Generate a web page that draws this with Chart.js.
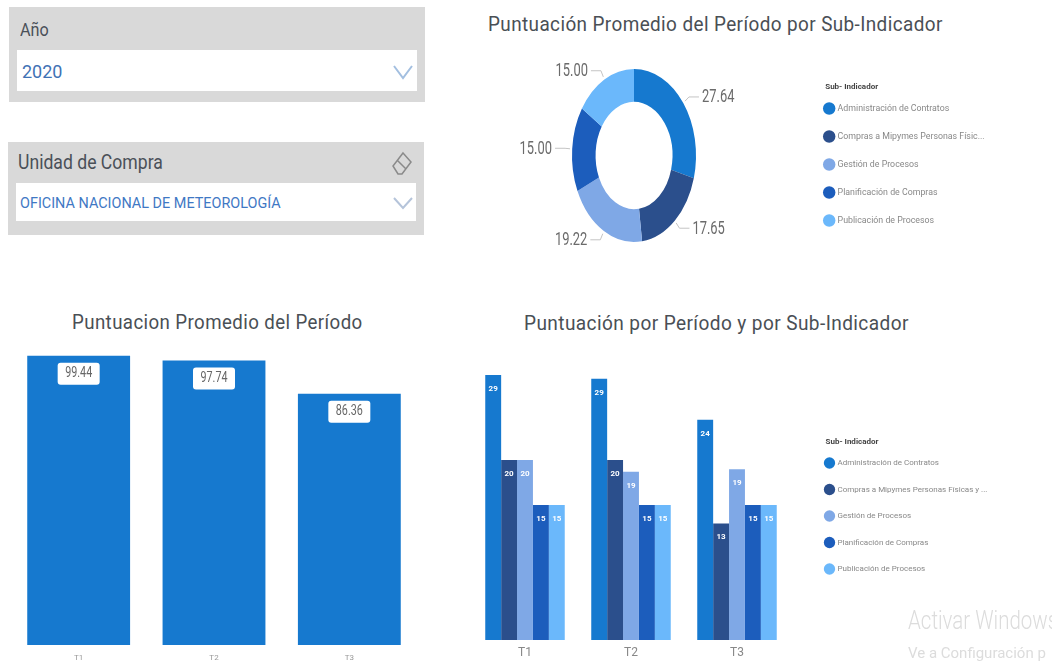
<!DOCTYPE html>
<html lang="es">
<head>
<meta charset="utf-8">
<script src="https://cdn.jsdelivr.net/npm/chart.js@4"></script>
<style>
  html, body { margin: 0; padding: 0; background: #fff; overflow: hidden; }
  body { width: 1052px; height: 668px; position: relative; font-family: Roboto, sans-serif; }
  .abs { position: absolute; white-space: nowrap; transform-origin: left center; }
  .slicer { background: #d9d9d9; }
  .field { background: #fff; }
  .title { color: #4a4f55; font-size: 21px; line-height: 26px; letter-spacing: .45px; transform: scaleX(.9); }
  canvas { position: absolute; }
  .watermark { color: #dcdcdc; }
</style>
</head>
<body>
  <div class="abs slicer" style="left:9px;top:7px;width:416px;height:95px"></div>
  <div class="abs field" style="left:17px;top:50px;width:400px;height:41px"></div>
  <div class="abs" style="left:20px;top:19px;font-size:18px;color:#4a5058;transform:scaleX(.9)">Año</div>
  <div class="abs" style="left:22px;top:61px;font-size:18px;color:#3f72b5">2020</div>
  <svg class="abs" style="left:392px;top:64px" width="22" height="16"><path d="M2 2 L11 14 L20 2" fill="none" stroke="#a3bfe0" stroke-width="2"/></svg>

  <div class="abs slicer" style="left:8px;top:142px;width:416px;height:93px"></div>
  <div class="abs field" style="left:16px;top:183px;width:400px;height:38px"></div>
  <div class="abs" style="left:18px;top:150px;font-size:20px;color:#4a5058;transform:scaleX(.88)">Unidad de Compra</div>
  <div class="abs" style="left:20px;top:194px;font-size:15.5px;color:#3f78c4;transform:scaleX(.93)">OFICINA NACIONAL DE METEOROLOGÍA</div>
  <svg class="abs" style="left:392px;top:196px" width="22" height="14"><path d="M2 2 L11 12 L20 2" fill="none" stroke="#b5c4da" stroke-width="2"/></svg>
  <svg class="abs" style="left:391px;top:151px" width="22" height="26"><path d="M12 2 L20 11 L11 23 L7 23 L2 15 Z M6 9 L15 18" fill="none" stroke="#8a8a8a" stroke-width="1.5"/></svg>

  <div class="abs title" style="left:488px;top:11px">Puntuación Promedio del Período por Sub-Indicador</div>
  <div class="abs title" style="left:72px;top:309px;transform:scaleX(.89)">Puntuacion Promedio del Período</div>
  <div class="abs title" style="left:524px;top:310px;transform:scaleX(.907)">Puntuación por Período y por Sub-Indicador</div>

  <canvas id="donut" style="left:463px;top:0" width="557" height="311"></canvas>
  <canvas id="periodBars" style="left:11px;top:350px" width="406" height="318"></canvas>
  <canvas id="groupBars" style="left:472px;top:365px" width="528" height="303"></canvas>

  <div class="abs watermark" style="left:908px;top:606px;font-size:25px;font-weight:300;transform:scaleX(.82)">Activar Windows</div>
  <div class="abs watermark" style="left:908px;top:644px;font-size:15px">Ve a Configuración p</div>

<script>
const periods = ['T1', 'T2', 'T3'];
const periodScores = [99.44, 97.74, 86.36];

const subIndicators = ['Administración de Contratos', 'Compras a Mipymes Personas Físicas y ...', 'Gestión de Procesos', 'Planificación de Compras', 'Publicación de Procesos'];
const donutLegendLabels = ['Administración de Contratos', 'Compras a Mipymes Personas Físic...', 'Gestión de Procesos', 'Planificación de Compras', 'Publicación de Procesos'];
const averageScores = [27.64, 17.65, 19.22, 15.00, 15.00];

const contratosScores = [29.44, 29.04, 24.46];
const mipymesScores = [20, 20, 12.95];
const gestionScores = [20, 18.7, 18.96];
const planificacionScores = [15, 15, 15];
const publicacionScores = [15, 15, 15];

const colors = ['#1679cf', '#2b4f8c', '#7fa8e6', '#1c5dbc', '#6bb8fb'];

const FONT = 'Roboto, sans-serif';
const GREY = '#6b6b6b';
const SQUEEZE = 124 / 173; // the whole picture is narrower than it is tall

Chart.defaults.animation = false;
Chart.defaults.responsive = false;
Chart.defaults.font.family = FONT;

// fixed legend box moved next to the plot, with its heading above the first row
function placedLegend(width, dx, dy) {
  return {
    id: 'placedLegend',
    beforeInit(chart) {
      const legend = chart.legend;
      const fit = legend.fit;
      const draw = legend.draw;
      legend.fit = function () {
        fit.call(this);
        this.width = width;
      };
      legend.draw = function () {
        const ctx = chart.ctx;
        const first = this.legendHitBoxes[0];
        ctx.save();
        ctx.translate(dx, dy);
        draw.call(this);
        ctx.font = 'bold 8px ' + FONT;
        ctx.fillStyle = '#444';
        ctx.textAlign = 'left';
        ctx.textBaseline = 'middle';
        ctx.fillText('Sub- Indicador', first.left, first.top - 17);
        ctx.restore();
      };
    },
  };
}

function legendOptions(size, padding) {
  return {
    position: 'right',
    align: 'center',
    labels: { usePointStyle: true, pointStyle: 'circle', boxWidth: 8, padding, color: '#888', font: { size } },
  };
}

const squeezeArcs = {
  id: 'squeezeArcs',
  beforeDatasetsDraw(chart) {
    const arc = chart.getDatasetMeta(0).data[0];
    chart.ctx.save();
    chart.ctx.translate(arc.x, 0);
    chart.ctx.scale(SQUEEZE, 1);
    chart.ctx.translate(-arc.x, 0);
  },
  afterDatasetsDraw(chart) {
    chart.ctx.restore();
    const ctx = chart.ctx;
    chart.getDatasetMeta(0).data.forEach((arc, i) => {
      const mid = (arc.startAngle + arc.endAngle) / 2;
      const dx = Math.cos(mid);
      const dy = Math.sin(mid);
      const side = dx >= 0 ? 1 : -1;
      const at = r => [arc.x + dx * (arc.outerRadius + r) * SQUEEZE, arc.y + dy * (arc.outerRadius + r)];
      const from = at(3);
      const elbow = at(10);
      ctx.strokeStyle = '#c4c4c4';
      ctx.lineWidth = 1;
      ctx.beginPath();
      ctx.moveTo(from[0], from[1]);
      ctx.lineTo(elbow[0], elbow[1]);
      ctx.lineTo(elbow[0] + side * 10, elbow[1]);
      ctx.stroke();

      ctx.save();
      ctx.translate(elbow[0] + side * 13, elbow[1]);
      ctx.scale(SQUEEZE, 1);
      ctx.font = '18px ' + FONT;
      ctx.fillStyle = GREY;
      ctx.textBaseline = 'middle';
      ctx.textAlign = side > 0 ? 'left' : 'right';
      ctx.fillText(averageScores[i].toFixed(2), 0, 1);
      ctx.restore();
    });
  },
};

const periodLabels = {
  id: 'periodLabels',
  afterDatasetsDraw(chart) {
    const ctx = chart.ctx;
    chart.getDatasetMeta(0).data.forEach((bar, i) => {
      ctx.fillStyle = '#fff';
      ctx.beginPath();
      ctx.roundRect(bar.x - 21, bar.y + 7, 42, 22, 3);
      ctx.fill();
      ctx.save();
      ctx.translate(bar.x, bar.y + 18);
      ctx.scale(SQUEEZE, 1);
      ctx.font = '15px ' + FONT;
      ctx.fillStyle = '#666';
      ctx.textAlign = 'center';
      ctx.textBaseline = 'middle';
      ctx.fillText(periodScores[i].toFixed(2), 0, 0);
      ctx.restore();
    });
  },
};

const groupLabels = {
  id: 'groupLabels',
  afterDatasetsDraw(chart) {
    const ctx = chart.ctx;
    chart.data.datasets.forEach((ds, d) => {
      chart.getDatasetMeta(d).data.forEach((bar, i) => {
        ctx.font = 'bold 8px ' + FONT;
        ctx.fillStyle = '#fff';
        ctx.textAlign = 'center';
        ctx.textBaseline = 'middle';
        ctx.fillText(Math.round(ds.data[i]), bar.x, bar.y + 14);
      });
    });
  },
};

new Chart(document.getElementById('donut'), {
  type: 'doughnut',
  data: {
    labels: donutLegendLabels,
    datasets: [{ data: averageScores, backgroundColor: colors, borderWidth: 0 }],
  },
  options: {
    cutout: '62%',
    layout: { padding: { top: 69, bottom: 69 } },
    plugins: { legend: legendOptions(8.8, 19.2), tooltip: { enabled: false } },
  },
  plugins: [placedLegend(215, 1, 9), squeezeArcs],
});

new Chart(document.getElementById('periodBars'), {
  type: 'bar',
  data: {
    labels: periods,
    datasets: [{ data: periodScores, backgroundColor: colors[0], barPercentage: 0.76, categoryPercentage: 1 }],
  },
  options: {
    layout: { padding: { top: 4 } },
    scales: {
      x: {
        afterFit(scale) { scale.height = 23; },
        grid: { display: false, drawTicks: false },
        border: { display: false },
        ticks: { color: '#999', font: { size: 8 }, padding: 8, maxRotation: 0 },
      },
      y: { display: false, min: 0, max: 100 },
    },
    plugins: { legend: { display: false }, tooltip: { enabled: false } },
  },
  plugins: [periodLabels],
});

new Chart(document.getElementById('groupBars'), {
  type: 'bar',
  data: {
    labels: periods,
    datasets: [contratosScores, mipymesScores, gestionScores, planificacionScores, publicacionScores].map((data, i) => ({
      label: subIndicators[i],
      data,
      backgroundColor: colors[i],
      barPercentage: 1,
      categoryPercentage: 0.75,
    })),
  },
  options: {
    layout: { padding: { top: 5 } },
    scales: {
      x: {
        afterFit(scale) { scale.height = 28; },
        grid: { display: false, drawTicks: false },
        border: { display: false },
        ticks: { color: '#888', font: { size: 12 }, padding: 6, maxRotation: 0 },
      },
      y: { display: false, min: 0, max: 30 },
    },
    plugins: { legend: legendOptions(8, 18.5), tooltip: { enabled: false } },
  },
  plugins: [placedLegend(210, 17, -3), groupLabels],
});
</script>
</body>
</html>
